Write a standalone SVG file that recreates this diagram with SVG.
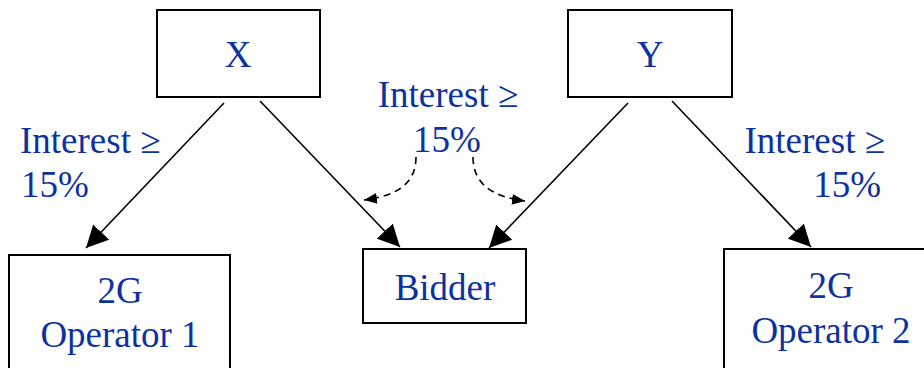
<svg xmlns="http://www.w3.org/2000/svg" width="924" height="368" viewBox="0 0 924 368">
<style>
.box{fill:#fff;stroke:#000;stroke-width:2}
.t{font-family:"Liberation Serif","Times New Roman",serif;font-size:37px;fill:#0d32a0}
.c{text-anchor:middle}
.e{text-anchor:end}
.ln{stroke:#000;stroke-width:1.6;fill:none}
.dash{stroke:#000;stroke-width:1.6;fill:none;stroke-dasharray:7,5}
</style>
<defs>
<marker id="big" viewBox="0 0 20 20" refX="20" refY="10" markerWidth="22" markerHeight="22" markerUnits="userSpaceOnUse" orient="auto">
<path d="M0,0 L20,10 L0,20 z" fill="#000"/>
</marker>
<marker id="sm" viewBox="0 0 12 10" refX="12" refY="5" markerWidth="13" markerHeight="11" markerUnits="userSpaceOnUse" orient="auto">
<path d="M0,0 L12,5 L0,10 z" fill="#000"/>
</marker>
</defs>
<g id="connectors">
<line class="ln" x1="224" y1="103" x2="86" y2="248" marker-end="url(#big)"/>
<line class="ln" x1="260" y1="101" x2="400" y2="247" marker-end="url(#big)"/>
<line class="ln" x1="628" y1="103" x2="489" y2="248" marker-end="url(#big)"/>
<line class="ln" x1="672" y1="101" x2="811" y2="247" marker-end="url(#big)"/>
<path class="dash" d="M416,157 C416,185 395,196 364,200" marker-end="url(#sm)"/>
<path class="dash" d="M473,157 C473,185 494,197 525,201" marker-end="url(#sm)"/>
</g>
<g id="node-x">
<rect class="box" x="157" y="10" width="163" height="87"/>
<text class="t c" x="238" y="67">X</text>
</g>
<g id="node-y">
<rect class="box" x="568" y="10" width="164" height="87"/>
<text class="t c" x="650" y="67">Y</text>
</g>
<g id="node-bidder">
<rect class="box" x="363" y="249" width="163" height="74"/>
<text class="t c" x="445" y="300">Bidder</text>
</g>
<g id="node-op1">
<rect class="box" x="9" y="255" width="221" height="120"/>
<text class="t c" x="120" y="303">2G</text>
<text class="t c" x="120" y="347">Operator 1</text>
</g>
<g id="node-op2">
<rect class="box" x="724" y="249" width="210" height="130"/>
<text class="t c" x="831" y="298">2G</text>
<text class="t c" x="831" y="343">Operator 2</text>
</g>
<g id="labels">
<text class="t" x="20" y="153">Interest ≥</text>
<text class="t" x="21" y="197">15%</text>
<text class="t c" x="448" y="107">Interest ≥</text>
<text class="t c" x="447" y="152">15%</text>
<text class="t e" x="885" y="153">Interest ≥</text>
<text class="t e" x="881" y="197">15%</text>
</g>
</svg>
